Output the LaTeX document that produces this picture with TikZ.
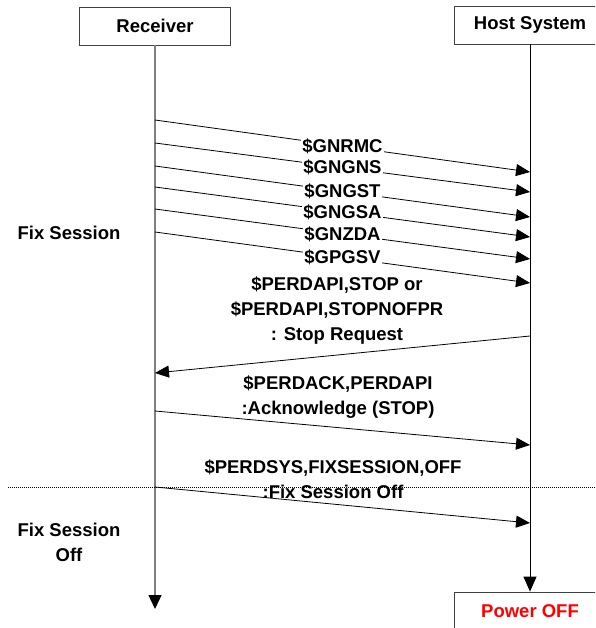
\documentclass[tikz,border=0pt]{standalone}
\usepackage{fontspec}
\setmainfont{Liberation Sans}
\usetikzlibrary{arrows.meta}
\begin{document}
\begin{tikzpicture}[x=1pt,y=-1pt,>={Triangle[length=14pt,width=12pt]},
    lane/.style={rectangle,draw=black!75,line width=0.8pt,minimum width=151,minimum height=38,font=\fontsize{18.5}{25}\selectfont\bfseries},
    lbl/.style={align=center,font=\fontsize{18.5}{25}\selectfont\bfseries},
    msg/.style={->,line width=0.8pt}]
    \clip (0,0) rectangle (595,628);
    \node [lane] (rcv) at (155,26) {Receiver};
    \node [lane] (host) at (530,25) {Host System};
    \node [lane,text=red] (off) at (530,611) {Power OFF};
    \coordinate (rend) at (155,609);

    % lifelines
    \draw [-{Triangle[length=14pt,width=13pt,black]},black!50,line width=1.3pt] (rcv) -- (rend);
    \draw [-{Triangle[length=15pt,width=13pt]},line width=0.8pt] (host) -- (off);

    % fix session output
    \foreach \ry/\hy/\txt [count=\i] in {120/172/GNRMC,143/192/GNGNS,166/217/GNGST,187/237/GNGSA,209/259/GNZDA,232/283/GPGSV} {
        \coordinate (r\i) at (155,\ry);
        \coordinate (h\i) at (530,\hy);
        \draw [msg] (r\i) -- node [lbl,fill=white,inner sep=1pt] {\$\txt} (h\i);
    }

    % stop request
    \coordinate (h7) at (530,336);
    \coordinate (r7) at (155,373);
    \node [lbl] (stop) at (337,311) {\$PERDAPI,STOP or\\\$PERDAPI,STOPNOFPR\\: Stop Request};
    \draw [msg] (h7) -- (r7);

    \coordinate (r8) at (155,411);
    \coordinate (h8) at (530,445);
    \node [lbl] (ack) at (338,397) {\$PERDACK,PERDAPI\\:Acknowledge (STOP)};
    \draw [msg] (r8) -- (h8);

    % session off
    \coordinate (sepl) at (8,487);
    \coordinate (sepr) at (595,487);
    \draw [line width=0.6pt,dash pattern=on 1pt off 1pt] (sepl) -- (sepr);
    \coordinate (r9) at (155,487);
    \coordinate (h9) at (530,523);
    \node [lbl] (fsoff) at (333,479) {\$PERDSYS,FIXSESSION,OFF\\:Fix Session Off};
    \draw [msg] (r9) -- (h9);

    \node [lbl] (fix) at (69,233) {Fix Session};
    \node [lbl] (fixoff) at (69,542) {Fix Session\\Off};
\end{tikzpicture}
\end{document}
